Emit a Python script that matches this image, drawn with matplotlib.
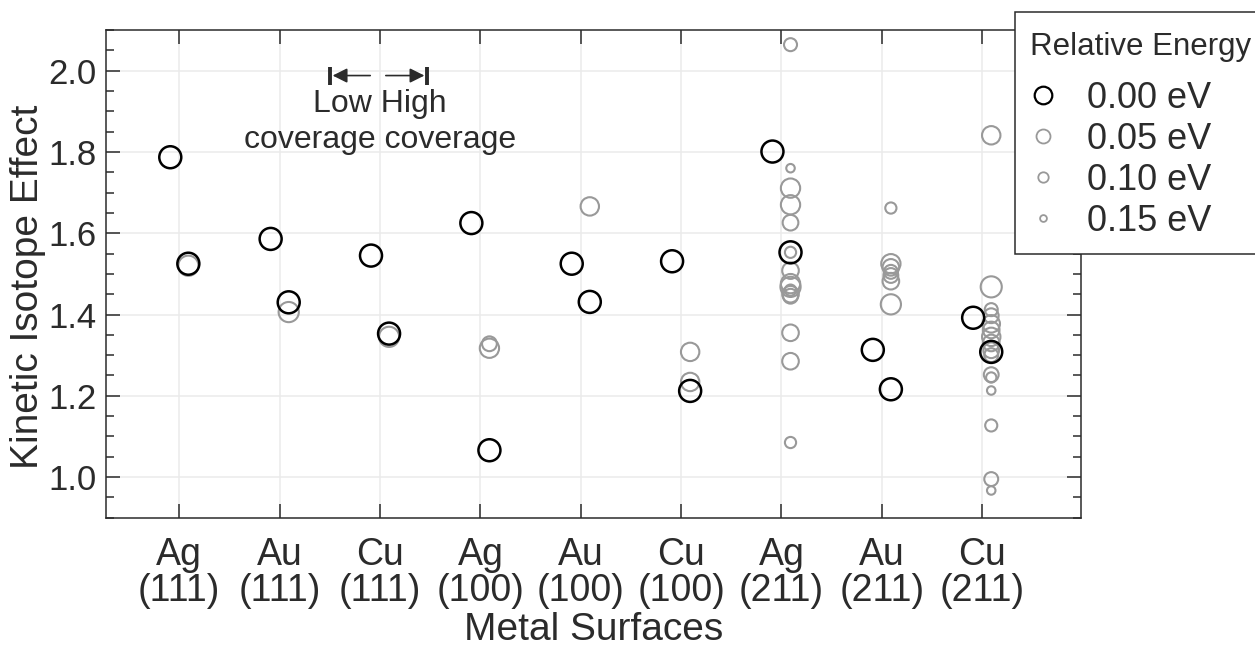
import numpy as np
import matplotlib
matplotlib.use("Agg")
import matplotlib.pyplot as plt
from matplotlib.lines import Line2D
from matplotlib.ticker import MultipleLocator

plt.rcParams['font.family'] = ['Liberation Sans', 'DejaVu Sans']

# Metal surfaces (x categories)
surfaces = ['Ag\n(111)', 'Au\n(111)', 'Cu\n(111)', 'Ag\n(100)', 'Au\n(100)',
            'Cu\n(100)', 'Ag\n(211)', 'Au\n(211)', 'Cu\n(211)']

# ground-state (0.00 eV) KIE at low and high coverage
kie_low = [1.787, 1.586, 1.545, 1.625, 1.525, 1.531, 1.801, 1.313, 1.392]
kie_high = [1.525, 1.430, 1.353, 1.066, 1.431, 1.212, 1.553, 1.216, 1.308]

# higher-energy configurations (high coverage): surface index, KIE, relative energy (eV)
exc_surface = [0, 1, 2,
               3, 3, 4, 5, 5,
               6, 6, 6, 6, 6, 6, 6, 6, 6, 6, 6, 6, 6, 6, 6,
               7, 7, 7, 7, 7, 7, 7,
               8, 8, 8, 8, 8, 8, 8, 8, 8, 8, 8, 8, 8, 8, 8, 8]
exc_kie = [1.520, 1.406, 1.345,
           1.328, 1.317, 1.666, 1.308, 1.234,
           2.064, 1.760, 1.711, 1.670, 1.626, 1.553, 1.508, 1.476, 1.468, 1.460, 1.450, 1.445,
           1.355, 1.285, 1.085,
           1.662, 1.525, 1.516, 1.505, 1.496, 1.482, 1.425,
           1.841, 1.468, 1.412, 1.397, 1.377, 1.362, 1.345, 1.330, 1.312, 1.300, 1.252,
           1.245, 1.213, 1.127, 0.995, 0.967]
exc_energy = [0.02, 0.02, 0.02,
              0.08, 0.03, 0.04, 0.04, 0.04,
              0.10, 0.15, 0.03, 0.03, 0.07, 0.12, 0.06, 0.03, 0.02, 0.12, 0.06, 0.08,
              0.06, 0.06, 0.12,
              0.12, 0.03, 0.06, 0.09, 0.08, 0.06, 0.02,
              0.04, 0.01, 0.10, 0.08, 0.05, 0.06, 0.04, 0.06, 0.07, 0.09, 0.08,
              0.13, 0.15, 0.11, 0.09, 0.15]

legend_energies = [0.00, 0.05, 0.10, 0.15]

dark = '#2b2b2b'
gray = '#999999'
offset = 0.09


def marker_pt(e):
    # marker diameter in points shrinks with relative energy
    return (22 - 90 * np.asarray(e)) / 1.389


fig = plt.figure(figsize=(12.55, 6.53), dpi=100)
ax = fig.add_axes([0.0845, 0.2072, 0.7769, 0.7468])

x = np.arange(len(surfaces))
ax.scatter(np.array(exc_surface) + offset, exc_kie, s=marker_pt(exc_energy) ** 2,
           facecolors='none', edgecolors=gray, linewidths=1.5, zorder=3)
ax.scatter(x - offset, kie_low, s=marker_pt(0) ** 2, facecolors='none',
           edgecolors='black', linewidths=1.8, zorder=4)
ax.scatter(x + offset, kie_high, s=marker_pt(0) ** 2, facecolors='none',
           edgecolors='black', linewidths=1.8, zorder=4)

ax.set_xlim(-0.73, 8.985)
ax.set_ylim(0.9, 2.1)
ax.set_xticks(x)
ax.set_xticklabels(surfaces, fontsize=27, color=dark, linespacing=1.0)
ax.yaxis.set_minor_locator(MultipleLocator(0.05))
ax.set_yticks(np.arange(1.0, 2.01, 0.2))
ax.set_yticklabels(['%.1f' % v for v in np.arange(1.0, 2.01, 0.2)], fontsize=25, color=dark)

ax.tick_params(which='both', direction='in', top=True, right=True, color=dark, width=1.1)
ax.tick_params(which='major', length=10)
ax.tick_params(which='minor', length=5.5)
ax.tick_params(axis='x', pad=14)
ax.tick_params(axis='y', pad=7)
for sp in ax.spines.values():
    sp.set_color(dark)
    sp.set_linewidth(1.1)
ax.grid(True, which='major', color='#ebebeb', linewidth=1.1, zorder=0)
ax.set_axisbelow(True)

ax.set_xlabel('Metal Surfaces', fontsize=28, color=dark, labelpad=2)
ax.set_ylabel('Kinetic Isotope Effect', fontsize=28, color=dark)
ax.yaxis.set_label_coords(-0.062, 0.474)

# coverage annotation
ax.annotate('', xy=(1.50, 1.988), xytext=(1.93, 1.988),
            arrowprops=dict(arrowstyle='-|>', color=dark, lw=1.2, mutation_scale=22))
ax.annotate('', xy=(2.47, 1.988), xytext=(2.03, 1.988),
            arrowprops=dict(arrowstyle='-|>', color=dark, lw=1.2, mutation_scale=22))
ax.plot([1.50, 2.47], [1.988, 1.988], ls='none', marker='|', ms=13, mew=2.8, color=dark)
ax.text(2.0, 1.955, 'Low High\ncoverage coverage', ha='center', va='top',
        fontsize=23, color=dark, linespacing=1.28)

handles = []
for e in legend_energies:
    handles.append(Line2D([], [], ls='none', marker='o', mfc='none',
                          mec='black' if e == 0 else gray,
                          mew=1.6 if e == 0 else 1.3,
                          ms=marker_pt(e) * 0.8, label='%.2f eV' % e))
leg = ax.legend(handles=handles, title='Relative Energy', loc='upper left',
                bbox_to_anchor=(0.8088, 0.982), bbox_transform=fig.transFigure,
                borderaxespad=0, fontsize=26, title_fontsize=22.5, fancybox=False,
                framealpha=1, edgecolor=dark, labelspacing=0.17, handletextpad=0.87,
                handlelength=0.7, borderpad=0.42, alignment='left')
leg.get_frame().set_linewidth(1.1)
leg._legend_box.sep = 17
leg.get_title().set_position((0, -5))
for t in leg.get_texts():
    t.set_color(dark)
leg.get_title().set_color(dark)

fig.savefig('out.png', dpi=100)
